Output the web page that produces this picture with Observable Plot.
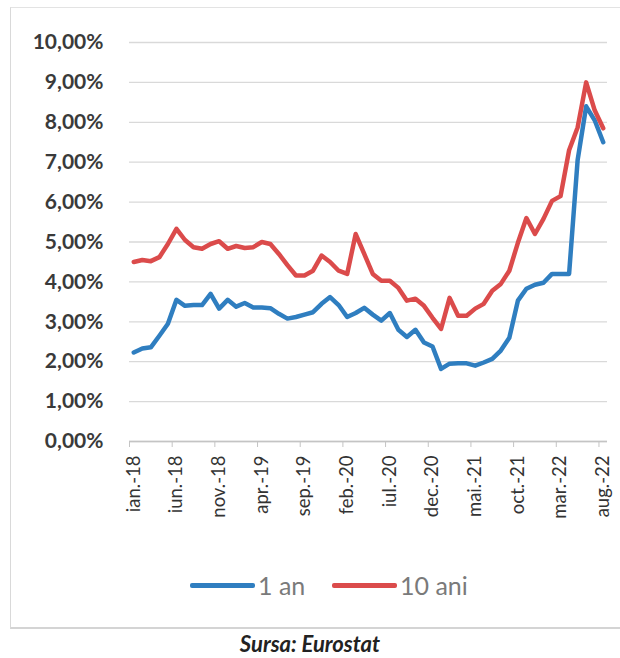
<!DOCTYPE html>
<html>
<head>
<meta charset="utf-8">
<script src="https://cdn.jsdelivr.net/npm/d3@7"></script>
<script src="https://cdn.jsdelivr.net/npm/@observablehq/plot@0.6"></script>
<style>
  html, body { margin: 0; padding: 0; background: #fff; }
  #wrap { position: relative; width: 620px; height: 658px; overflow: hidden; font-family: Lato, "Open Sans", sans-serif; }
  #frame { position: absolute; left: 10px; top: 7px; width: 620px; height: 622px; border-left: 1px solid #d9d9d9; border-top: 1px solid #e3e3e3; border-bottom: 2px solid #d4d4d4; box-sizing: border-box; }
  #chart { position: absolute; left: 0; top: 0; }
  .leg { position: absolute; top: 570px; height: 30px; display: flex; align-items: center; color: #7a7a7a; font-size: 25px; line-height: 30px; }
  .sw { width: 65px; height: 5px; border-radius: 2px; margin-right: 3px; }
  #caption { position: absolute; left: 0; width: 620px; top: 630px; line-height: normal; text-align: center; font-family: Lato, sans-serif; font-style: italic; font-weight: bold; font-size: 22px; color: #222; }
</style>
</head>
<body>
<div id="wrap">
  <div id="frame"></div>
  <div id="chart"></div>
  <div class="leg" style="left:190px"><div class="sw" style="background:#2F7EC0"></div><span>1 an</span></div>
  <div class="leg" style="left:332px"><div class="sw" style="background:#DB4B4B"></div><span>10 ani</span></div>
  <div id="caption">Sursa: Eurostat</div>
</div>
<script>
const monthNames = ["ian.", "feb.", "mar.", "apr.", "mai.", "iun.", "iul.", "aug.", "sep.", "oct.", "nov.", "dec."];
const years = ["18", "19", "20", "21", "22"];
const months = [];
for (const y of years) for (const m of monthNames) months.push(m + "-" + y);
months.length = 56; // ian.-18 .. aug.-22

// 1-year yields (%)
const yield1an = [
  2.23, 2.33, 2.36, 2.65, 2.95, 3.55, 3.40, 3.42, 3.42, 3.70, 3.33, 3.55,
  3.38, 3.47, 3.36, 3.36, 3.34, 3.20, 3.08, 3.12, 3.18, 3.24, 3.45, 3.62,
  3.42, 3.12, 3.22, 3.35, 3.18, 3.03, 3.22, 2.80, 2.62, 2.80, 2.48, 2.38,
  1.82, 1.95, 1.96, 1.96, 1.90, 1.98, 2.07, 2.28, 2.60, 3.53, 3.83, 3.93,
  3.98, 4.20, 4.20, 4.20, 7.05, 8.40, 8.05, 7.50
];
// 10-year yields (%)
const yield10ani = [
  4.50, 4.55, 4.52, 4.62, 4.95, 5.33, 5.05, 4.87, 4.83, 4.95, 5.02, 4.83,
  4.90, 4.85, 4.87, 5.00, 4.95, 4.70, 4.42, 4.16, 4.16, 4.28, 4.66, 4.50,
  4.28, 4.20, 5.20, 4.70, 4.20, 4.03, 4.03, 3.85, 3.53, 3.58, 3.40, 3.10,
  2.82, 3.60, 3.15, 3.15, 3.33, 3.45, 3.78, 3.95, 4.28, 4.98, 5.60, 5.20,
  5.58, 6.03, 6.15, 7.30, 7.87, 9.00, 8.30, 7.85
];
const seriesNames = ["1 an", "10 ani"];
const seriesColors = ["#2F7EC0", "#DB4B4B"];
const yTicks = [0, 1, 2, 3, 4, 5, 6, 7, 8, 9, 10];
const xTickIndex = months.map((d, i) => i).filter(i => i % 5 === 0);

const rows = [];
months.forEach((m, i) => {
  rows.push({idx: i, month: m, value: yield1an[i], series: seriesNames[0]});
  rows.push({idx: i, month: m, value: yield10ani[i], series: seriesNames[1]});
});

const W = 620, H = 540;
const step = (607 - 129) / months.length;

const chart = Plot.plot({
  width: W,
  height: H,
  marginTop: 42,
  marginBottom: H - 441,
  marginLeft: 129,
  marginRight: W - 607,
  style: {fontFamily: "Lato, 'Open Sans', sans-serif", background: "transparent", color: "#404040"},
  x: {type: "linear", domain: [-0.5, months.length - 0.5]},
  y: {domain: [0, 10]},
  color: {domain: seriesNames, range: seriesColors},
  marks: [
    Plot.gridY(yTicks, {stroke: "#d9d9d9", strokeOpacity: 1, strokeWidth: 1.3}),
    Plot.ruleY([0], {stroke: "#c4c4c4", strokeWidth: 1.5}),
    Plot.axisY(yTicks, {
      tickSize: 0, tickPadding: 26,
      tickFormat: d => d.toFixed(2).replace(".", ",") + "%",
      fontSize: 21, fontWeight: "bold", fill: "#3a3a3a", label: null
    }),
    Plot.axisX(xTickIndex, {
      tickSize: 6, tickFormat: () => "", dx: -step / 2, stroke: "#c4c4c4", label: null
    }),
    Plot.axisX(xTickIndex, {
      tickSize: 0, tickPadding: 14, tickRotate: -90,
      tickFormat: i => months[i],
      fontSize: 18.5, fill: "#333", label: null
    }),
    Plot.line(rows, {
      x: "idx", y: "value", z: "series", stroke: "series",
      strokeWidth: 4.5, strokeLinejoin: "round", strokeLinecap: "round"
    })
  ]
});
document.getElementById("chart").appendChild(chart);
</script>
</body>
</html>
